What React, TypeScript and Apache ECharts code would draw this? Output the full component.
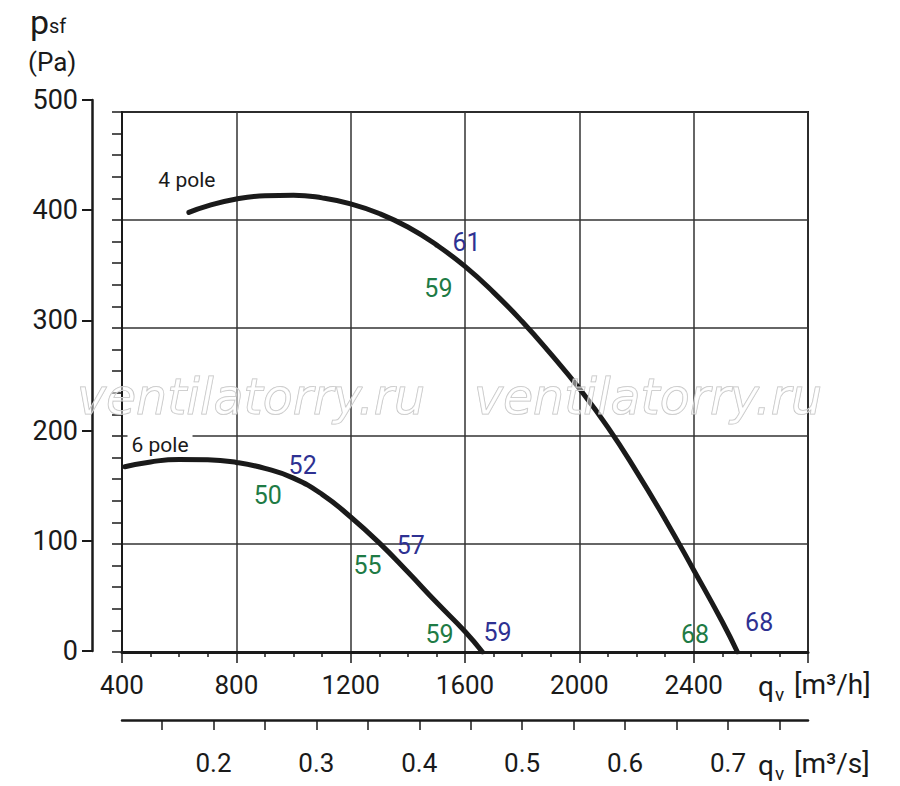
import { useEffect, useRef } from 'react';
import * as echarts from 'echarts';

// ---- data ----
const flowTicksM3h = [400, 800, 1200, 1600, 2000, 2400, 2800];
const flowTicksM3s = [0.15, 0.2, 0.25, 0.3, 0.35, 0.4, 0.45, 0.5, 0.55, 0.6, 0.65, 0.7, 0.75];
const flowLabelsM3s = [0.2, 0.3, 0.4, 0.5, 0.6, 0.7];

const q4pole = [634, 700, 800, 900, 1000, 1100, 1200, 1300, 1400, 1500, 1600, 1700, 1800, 1900, 2000, 2100, 2200, 2300, 2400, 2500, 2553];
const p4pole = [407, 413, 419.5, 422.5, 423, 420.5, 415, 406, 393.5, 377, 357, 333, 306, 276, 244, 208, 167, 123, 76, 28, 0];

const q6pole = [410, 500, 600, 700, 800, 900, 1000, 1100, 1200, 1300, 1400, 1500, 1600, 1661];
const p6pole = [171.5, 176, 178.3, 178, 175.5, 170, 161, 146, 125, 101, 74, 46, 19, 0];

const blueLabelQ = [1605, 1032, 1410, 1714, 2629];
const blueLabelP = [379, 173, 99, 18, 27];
const blueLabelText = ['61', '52', '57', '59', '68'];

const greenLabelQ = [1507, 910, 1259, 1511, 2405];
const greenLabelP = [337, 145, 80, 16, 16];
const greenLabelText = ['59', '50', '55', '59', '68'];

const poleLabelQ = [627, 533];
const poleLabelP = [437, 192];
const poleLabelText = ['4 pole', '6 pole'];

const FONT = 'Roboto, "Noto Sans", sans-serif';
const INK = '#1a1a1a';
const BLUE = '#2e3192';
const GREEN = '#1e7b45';

const zip = (a: number[], b: number[]) => a.map((v, i) => [v, b[i]]);
const labelData = (q: number[], p: number[], t: string[]) =>
  q.map((v, i) => ({ value: [v, p[i]], name: t[i] }));

const labelSeries = (data: any[], color: string, fontSize: number, extra: any = {}) => ({
  type: 'scatter', xAxisIndex: 0, yAxisIndex: 0, symbolSize: 0, silent: true,
  itemStyle: { color, opacity: 1 }, data, z: 6,
  label: {
    show: true, position: 'inside', formatter: '{b}', color, fontSize, fontFamily: FONT,
    textBorderWidth: 0, opacity: 1, ...extra,
  },
});

export default function App() {
  const ref = useRef<HTMLDivElement>(null);
  useEffect(() => {
    const chart = echarts.init(ref.current!, null, { renderer: 'svg' });
    const qMin = flowTicksM3h[0];
    const qMax = flowTicksM3h[flowTicksM3h.length - 1];
    const watermark = (x: number) => ({
      type: 'text', x, y: 397, z: 100, silent: true,
      style: {
        text: 'ventilatorry.ru', fontSize: 49, fontStyle: 'italic', fontFamily: '"DejaVu Sans", sans-serif',
        fill: 'rgba(255,255,255,0.45)', stroke: '#c0c0c0', lineWidth: 1, align: 'center', verticalAlign: 'middle',
      },
    });
    const txt = (x: number, y: number, text: string, fontSize: number) => ({
      type: 'text', x, y, style: { text, fontSize, fontFamily: FONT, fill: INK, verticalAlign: 'middle' },
    });
    const option: any = {
      animation: false,
      backgroundColor: '#fff',
      grid: [
        { left: 122, right: 92, top: 112, bottom: 134, show: true, borderColor: INK, borderWidth: 2, backgroundColor: 'transparent' },
        { left: 122, right: 92, top: 719, bottom: 66 },
        { left: 92, width: 1, top: 100, bottom: 135 },
      ],
      xAxis: [
        {
          gridIndex: 0, type: 'value', min: qMin, max: qMax, interval: 400,
          axisLine: { show: true, lineStyle: { color: INK, width: 3 } },
          axisTick: { show: true, length: 11, lineStyle: { color: INK, width: 1.5 } },
          minorTick: { show: true, splitNumber: 4, length: 5, lineStyle: { color: INK, width: 1.5 } },
          splitLine: { show: true, lineStyle: { color: '#333', width: 1.5 } },
          axisLabel: {
            fontSize: 26, fontFamily: FONT, color: INK, margin: 20, showMaxLabel: false,
            formatter: (v: number) => String(v),
          },
        },
        {
          gridIndex: 1, type: 'value', min: qMin / 3600, max: qMax / 3600, position: 'bottom',
          axisLine: { show: true, lineStyle: { color: INK, width: 2.5 } },
          axisTick: { show: true, length: 10, customValues: flowTicksM3s, lineStyle: { color: INK, width: 1.5 } },
          axisLabel: {
            fontSize: 26, fontFamily: FONT, color: INK, margin: 30,
            customValues: flowLabelsM3s, formatter: (v: number) => v.toFixed(1),
          },
          splitLine: { show: false },
        },
        { gridIndex: 2, type: 'value', show: false, min: 0, max: 1 },
      ],
      yAxis: [
        {
          gridIndex: 0, type: 'value', min: 0, max: 500, interval: 100,
          axisLine: { show: true, lineStyle: { color: INK, width: 2 } },
          axisTick: { show: true, length: 10, lineStyle: { color: INK, width: 1.5 } },
          minorTick: { show: true, splitNumber: 5, length: 10, lineStyle: { color: INK, width: 1.5 } },
          splitLine: { show: true, lineStyle: { color: '#333', width: 1.5 } },
          axisLabel: { show: false },
        },
        { gridIndex: 1, type: 'value', show: false, min: 0, max: 1 },
        {
          gridIndex: 2, type: 'value', min: 0, max: 500, interval: 100,
          axisLine: { show: true, lineStyle: { color: INK, width: 2.5 } },
          axisTick: { show: true, length: 10, lineStyle: { color: INK, width: 2 } },
          axisLabel: { fontSize: 27, fontFamily: FONT, color: INK, margin: 14 },
          splitLine: { show: false },
        },
      ],
      series: [
        {
          type: 'line', xAxisIndex: 0, yAxisIndex: 0, data: zip(q4pole, p4pole), smooth: 0.5,
          showSymbol: false, lineStyle: { color: '#1a1a1a', width: 5, cap: 'round' }, z: 5,
        },
        {
          type: 'line', xAxisIndex: 0, yAxisIndex: 0, data: zip(q6pole, p6pole), smooth: 0.5,
          showSymbol: false, lineStyle: { color: '#1a1a1a', width: 5, cap: 'round' }, z: 5,
        },
        labelSeries(labelData(blueLabelQ, blueLabelP, blueLabelText), BLUE, 25),
        labelSeries(labelData(greenLabelQ, greenLabelP, greenLabelText), GREEN, 25),
        labelSeries(labelData(poleLabelQ, poleLabelP, poleLabelText), INK, 21, { backgroundColor: '#fff', padding: [0, 4] }),
      ],
      graphic: [
        txt(30, 22, 'p', 34),
        txt(49, 26, 'sf', 20),
        txt(28, 62, '(Pa)', 26),

        txt(758, 686, 'q', 28),
        txt(775, 694, 'v', 19),
        txt(794, 684, '[m³/h]', 28),

        txt(758, 765, 'q', 28),
        txt(775, 773, 'v', 19),
        txt(794, 763, '[m³/s]', 28),

        watermark(251),
        watermark(648),
      ],
    };
    chart.setOption(option);
    return () => chart.dispose();
  }, []);
  return <div ref={ref} style={{ position: 'absolute', left: 0, top: 0, width: 900, height: 786, background: '#fff' }} />;
}
